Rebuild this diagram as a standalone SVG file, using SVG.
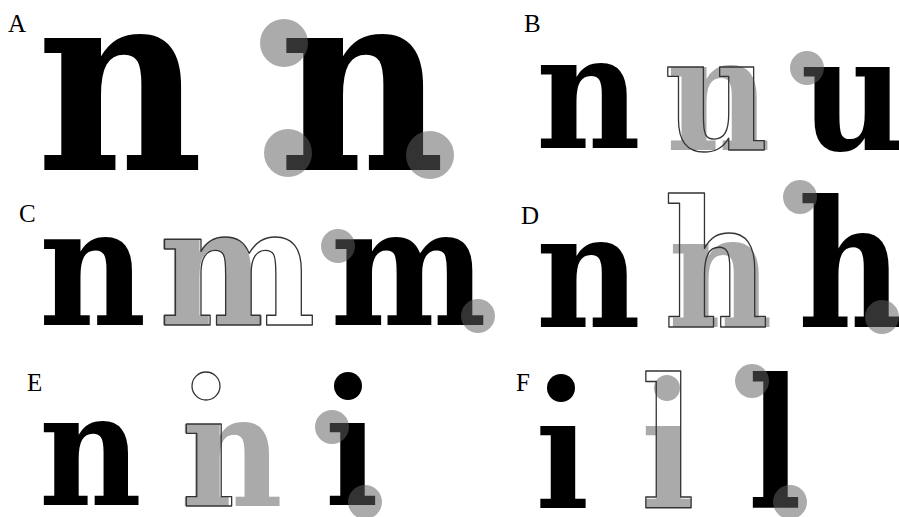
<svg xmlns="http://www.w3.org/2000/svg" width="899" height="517" viewBox="0 0 899 517">
<style>
.g{font-family:"DejaVu Serif Condensed","DejaVu Serif",serif;font-weight:bold}
.blk{fill:#000}
.gry{fill:#aaaaaa}
.out{fill:none;stroke:#333;stroke-width:1.3;stroke-linejoin:round}
.hl{fill:#606060;fill-opacity:0.53}
.lbl{font-family:"Liberation Serif",serif;font-size:25px;fill:#000}
</style>
<rect width="899" height="517" fill="#fff"/>
<g id="panelA">
<text class="lbl" x="8" y="32">A</text>
<text class="g blk" x="36.6" y="170" font-size="255">n</text>
<text class="g blk" x="278.6" y="170" font-size="255">n</text>
<circle class="hl" cx="284" cy="43" r="24"/>
<circle class="hl" cx="288" cy="153" r="24"/>
<circle class="hl" cx="430" cy="155" r="24"/>
</g>
<g id="panelB">
<text class="lbl" x="524" y="32">B</text>
<text class="g blk" x="536" y="148" font-size="160">n</text>
<text class="g gry" x="666" y="150" font-size="160">n</text>
<text class="g out" x="664.6" y="150" font-size="160">u</text>
<text class="g blk" x="800.6" y="150" font-size="160">u</text>
<circle class="hl" cx="807" cy="68" r="17"/>
</g>
<g id="panelC">
<text class="lbl" x="19" y="222">C</text>
<text class="g blk" x="39" y="325" font-size="164">n</text>
<text class="g gry" x="158" y="325" font-size="164">n</text>
<text class="g out" x="159.5" y="325" font-size="164">m</text>
<text class="g blk" x="330.5" y="325" font-size="164">m</text>
<circle class="hl" cx="338" cy="246" r="17"/>
<circle class="hl" cx="478" cy="316" r="17"/>
</g>
<g id="panelD">
<text class="lbl" x="521" y="224">D</text>
<text class="g blk" x="536" y="327" font-size="160">n</text>
<text class="g gry" x="668" y="327" font-size="160">n</text>
<text class="g out" transform="translate(664 327) scale(1 1.1)" font-size="160">h</text>
<text class="g blk" transform="translate(798 327) scale(1 1.1)" font-size="160">h</text>
<circle class="hl" cx="800" cy="197" r="17"/>
<circle class="hl" cx="882" cy="317" r="17"/>
</g>
<g id="panelE">
<text class="lbl" x="27" y="391">E</text>
<text class="g blk" x="39" y="505" font-size="157">n</text>
<text class="g gry" x="180" y="506" font-size="157">n</text>
<text class="g out" x="181.6" y="506" font-size="157">ı</text>
<circle cx="206" cy="386" r="14" fill="#fff" stroke="#333" stroke-width="1.3"/>
<text class="g blk" x="325" y="505" font-size="157">ı</text>
<circle cx="348" cy="386" r="14" fill="#000"/>
<circle class="hl" cx="332" cy="427" r="17"/>
<circle class="hl" cx="365" cy="502" r="17"/>
</g>
<g id="panelF">
<text class="lbl" x="516" y="391">F</text>
<text class="g blk" x="535.6" y="508" font-size="157">ı</text>
<circle cx="561" cy="388" r="14" fill="#000"/>
<text class="g gry" x="641" y="508" font-size="157">ı</text>
<circle cx="667" cy="388" r="13" fill="#aaaaaa"/>
<text class="g out" transform="translate(641 508) scale(1 1.15)" font-size="157">l</text>
<text class="g blk" transform="translate(748 508) scale(1 1.15)" font-size="157">l</text>
<circle class="hl" cx="752" cy="381" r="17"/>
<circle class="hl" cx="790" cy="502" r="17"/>
</g>
</svg>
